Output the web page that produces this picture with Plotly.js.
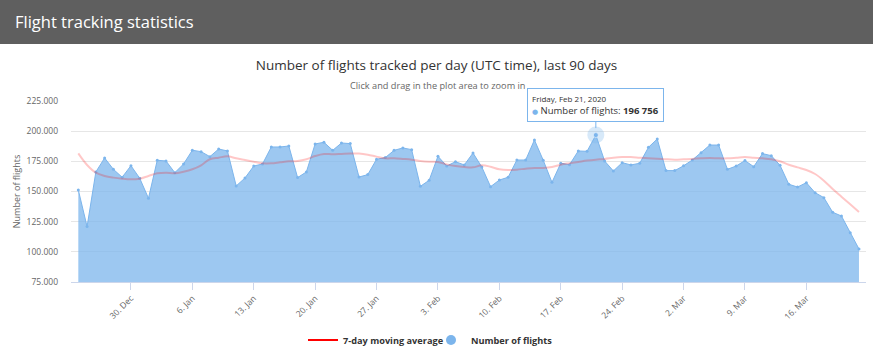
<!DOCTYPE html>
<html>
<head>
<meta charset="utf-8">
<script src="https://cdn.plot.ly/plotly-3.0.1.min.js"></script>
<style>
  html, body { margin: 0; padding: 0; background: #fff; }
  #header { height: 44px; background: #5f5f5f; color: #fff; font-family: "Open Sans", sans-serif; font-size: 16.5px; line-height: 44px; padding-left: 15px; box-sizing: border-box; width: 873px; }
  #chart { width: 873px; height: 310px; }
</style>
</head>
<body>
<div id="header">Flight tracking statistics</div>
<div id="chart"></div>
<script>
const dates = [
  "2019-12-24","2019-12-25","2019-12-26","2019-12-27","2019-12-28","2019-12-29","2019-12-30","2019-12-31",
  "2020-01-01","2020-01-02","2020-01-03","2020-01-04","2020-01-05","2020-01-06","2020-01-07","2020-01-08",
  "2020-01-09","2020-01-10","2020-01-11","2020-01-12","2020-01-13","2020-01-14","2020-01-15","2020-01-16",
  "2020-01-17","2020-01-18","2020-01-19","2020-01-20","2020-01-21","2020-01-22","2020-01-23","2020-01-24",
  "2020-01-25","2020-01-26","2020-01-27","2020-01-28","2020-01-29","2020-01-30","2020-01-31",
  "2020-02-01","2020-02-02","2020-02-03","2020-02-04","2020-02-05","2020-02-06","2020-02-07","2020-02-08",
  "2020-02-09","2020-02-10","2020-02-11","2020-02-12","2020-02-13","2020-02-14","2020-02-15","2020-02-16",
  "2020-02-17","2020-02-18","2020-02-19","2020-02-20","2020-02-21","2020-02-22","2020-02-23","2020-02-24",
  "2020-02-25","2020-02-26","2020-02-27","2020-02-28","2020-02-29",
  "2020-03-01","2020-03-02","2020-03-03","2020-03-04","2020-03-05","2020-03-06","2020-03-07","2020-03-08",
  "2020-03-09","2020-03-10","2020-03-11","2020-03-12","2020-03-13","2020-03-14","2020-03-15","2020-03-16",
  "2020-03-17","2020-03-18","2020-03-19","2020-03-20","2020-03-21","2020-03-22"
];

const flights = [
  151300,120900,166200,177800,168400,161800,171400,161000,
  144400,175900,175300,165600,172800,184200,183000,178900,
  185200,183600,154600,161200,171100,172800,186900,186900,
  187700,161500,166200,189400,190800,184100,190200,189700,
  162000,164000,176700,178100,184100,186100,184700,
  154300,159300,179200,171100,174700,172000,181900,170300,
  154000,159500,161800,176100,176100,192700,176000,157600,
  173400,172200,183600,183300,196756,175300,167000,173900,
  172000,173400,186600,193500,167300,
  167300,171300,176100,182200,188500,188500,168400,171100,
  175600,170600,181400,179700,171700,156000,153700,157300,
  149000,144900,132800,129700,115900,102400
];

const movingAvg = [
  181600,172000,165600,162900,161500,160600,160100,160600,
  162900,165100,165600,165100,166400,168400,171700,176700,
  178000,179200,177500,176100,174700,173400,173400,174200,
  175000,175300,176700,179400,181100,180800,181100,181400,
  181400,180500,178900,177500,177500,177000,176400,
  175300,174700,174500,172500,171100,170300,170000,171700,
  170500,168400,167800,168100,168900,169500,169500,170300,
  172200,173400,174500,175600,176400,177000,178000,178600,
  178600,178000,177500,177200,176700,
  176400,176700,177000,177500,177800,177500,177500,178000,
  178600,178000,177500,176700,175000,172200,170000,167800,
  164500,159000,152100,145700,139400,133000
];

const tickDates = ["2019-12-30","2020-01-06","2020-01-13","2020-01-20","2020-01-27","2020-02-03",
                   "2020-02-10","2020-02-17","2020-02-24","2020-03-02","2020-03-09","2020-03-16"];
const tickLabels = ["30. Dec","6. Jan","13. Jan","20. Jan","27. Jan","3. Feb",
                    "10. Feb","17. Feb","24. Feb","2. Mar","9. Mar","16. Mar"];

const yTicks = [75000,100000,125000,150000,175000,200000,225000];

const tipIndex = 59;
const tipDateLabel = "Friday, Feb 21, 2020";

const fmtSpace = v => String(v).replace(/\B(?=(\d{3})+(?!\d))/g, " ");
const fontFam = '"Open Sans", "DejaVu Sans", sans-serif';

const traces = [
  {
    x: dates, y: flights, type: 'scatter', mode: 'lines+markers',
    fill: 'tozeroy', fillcolor: 'rgba(124,181,236,0.75)',
    line: {color: '#7cb5ec', width: 1},
    marker: {color: '#7cb5ec', size: 3},
    showlegend: false, name: 'Number of flights'
  },
  {
    x: dates, y: movingAvg, type: 'scatter', mode: 'lines',
    line: {color: 'rgba(255,0,0,0.22)', width: 2, shape: 'spline'},
    showlegend: false, name: '7-day moving average'
  },
  {
    x: [dates[tipIndex]], y: [flights[tipIndex]], type: 'scatter', mode: 'markers',
    marker: {color: 'rgba(124,181,236,0.3)', size: 17},
    showlegend: false
  },
  {
    x: [dates[tipIndex]], y: [flights[tipIndex]], type: 'scatter', mode: 'markers',
    marker: {color: '#7cb5ec', size: 5, line: {color: '#fff', width: 0.5}},
    showlegend: false
  },
  {
    x: [null], y: [null], type: 'scatter', mode: 'lines',
    line: {color: '#ff0000', width: 2}, name: '7-day moving average', showlegend: true
  },
  {
    x: [null], y: [null], type: 'scatter', mode: 'markers',
    marker: {color: '#7cb5ec', size: 10}, name: 'Number of flights', showlegend: true
  }
];

const layout = {
  width: 873, height: 310,
  margin: {l: 71, r: 7, t: 57, b: 72, pad: 0, autoexpand: false},
  paper_bgcolor: '#fff', plot_bgcolor: '#fff',
  separators: ',.',
  font: {family: fontFam, color: '#666', size: 9},
  hovermode: false,
  title: {
    text: 'Number of flights tracked per day (UTC time), last 90 days',
    font: {family: fontFam, size: 13.5, color: '#333'},
    x: 0.5, xref: 'container', xanchor: 'center',
    y: 1 - 21/310, yref: 'container', yanchor: 'middle'
  },
  xaxis: {
    type: 'date',
    range: ['2019-12-23 04:00', '2020-03-22 19:12'],
    tickmode: 'array', tickvals: tickDates, ticktext: tickLabels,
    tickangle: -45, tickfont: {size: 8.5, color: '#666'},
    ticks: 'outside', ticklen: 7, tickcolor: '#ccd6eb', tickwidth: 1,
    showline: true, linecolor: '#ccd6eb', linewidth: 1,
    showgrid: false, zeroline: false, fixedrange: true
  },
  yaxis: {
    range: [75000, 225000],
    tickmode: 'array', tickvals: yTicks,
    tickformat: ',d',
    tickfont: {size: 8.5, color: '#666'},
    ticklabelstandoff: 12,
    showgrid: true, gridcolor: '#e6e6e6', gridwidth: 1,
    zeroline: false, showline: false, fixedrange: true,
    title: {text: 'Number of flights', font: {size: 9, color: '#666'}, standoff: 4}
  },
  legend: {
    orientation: 'h', x: (303 - 71) / 795, xanchor: 'left',
    y: (238 - 296) / 181, yanchor: 'middle',
    font: {family: fontFam, size: 9.2, color: '#333', weight: 'bold'},
    itemwidth: 30, entrywidth: 83, entrywidthmode: 'pixels', bgcolor: 'rgba(0,0,0,0)'
  },
  annotations: [
    {
      xref: 'paper', yref: 'paper', x: (437.5 - 71) / 795, y: 1, yshift: 16,
      xanchor: 'center', yanchor: 'middle', showarrow: false,
      text: 'Click and drag in the plot area to zoom in',
      font: {family: fontFam, size: 9.2, color: '#666'}
    },
    {
      x: dates[tipIndex], y: flights[tipIndex], xref: 'x', yref: 'y',
      showarrow: true, arrowhead: 0, arrowwidth: 1, arrowcolor: '#7cb5ec',
      ax: 0, ay: -30, standoff: 7,
      align: 'left',
      bgcolor: 'rgba(255,255,255,0.92)', bordercolor: '#7cb5ec', borderwidth: 1, borderpad: 4,
      font: {family: fontFam, size: 9.5, color: '#333'},
      text: '<span style="font-size:8px">' + tipDateLabel + '</span><br><span style="color:#7cb5ec;font-size:7px">●</span> Number of flights: <b>' + fmtSpace(flights[tipIndex]) + '</b>'
    }
  ]
};

Plotly.newPlot('chart', traces, layout, {displayModeBar: false, staticPlot: true});
</script>
</body>
</html>
